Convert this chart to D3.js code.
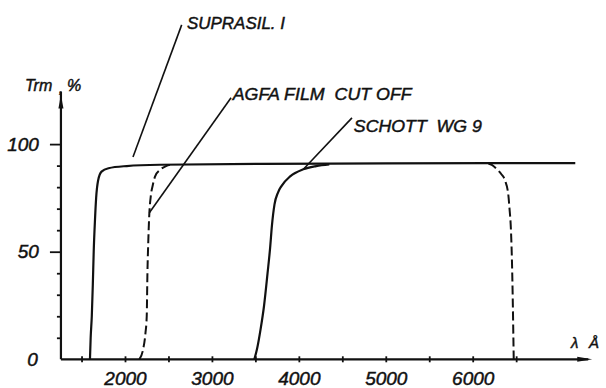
<!DOCTYPE html>
<html>
<head>
<meta charset="utf-8">
<script src="https://cdn.jsdelivr.net/npm/d3@7"></script>
<style>
  html, body { margin: 0; padding: 0; background: #fff; }
  svg { display: block; }
  text { font-family: "Liberation Sans", Arial, sans-serif; font-style: italic; fill: #111; stroke: #111; stroke-width: 0.45px; }
</style>
</head>
<body>
<svg id="chart" width="606" height="388"></svg>
<script>
// ---- data (wavelength in Å, transmission in %) ----
const suprasilX = [1597, 1605, 1618, 1630, 1640, 1655, 1668, 1690, 1730, 1810, 2020, 2400, 3550, 5000, 7180];
const suprasilY = [0, 10, 20, 35, 50, 65, 75, 83, 87.2, 88.8, 89.8, 90.4, 90.8, 91.0, 91.2];

const agfaLeftX = [2165, 2205, 2235, 2250, 2258, 2268, 2280, 2296, 2320, 2345, 2403, 2472, 2540];
const agfaLeftY = [0, 4, 12, 20, 40, 55, 67.8, 75.6, 81, 84.9, 88, 89.8, 90.5];

const agfaRightX = [6181, 6220, 6277, 6330, 6373, 6411, 6422, 6440, 6452, 6462, 6468, 6472];
const agfaRightY = [91.0, 90.3, 88.4, 86, 83, 76, 70.7, 60, 45, 25, 10, 0];

const schottX = [3488, 3520, 3560, 3600, 3640, 3670, 3690, 3720, 3760, 3800, 3900, 4050, 4200, 4350];
const schottY = [0, 5, 14, 25, 40, 52, 62, 72, 77.5, 80.5, 85, 88.3, 89.8, 90.6];

const xTickLabels = [2000, 3000, 4000, 5000, 6000];
const xMinorTicks = [1500, 2000, 2500, 3000, 3500, 4000, 4500, 5000, 5500, 6000, 6500];
const yTickLabels = [0, 50, 100];
const yMinorTicks = [10, 20, 30, 40, 60, 70, 80, 90];

// annotation labels and their leader lines (in data units)
const labelNames = ["SUPRASIL. I", "AGFA FILM  CUT OFF", "SCHOTT  WG 9"];
const leaderFromX = [2092, 2280, 4052];
const leaderFromY = [94, 68.1, 88.3];
const leaderToX = [2652, 3220, 4611];
const leaderToY = [155.4, 121.5, 112.2];
const labelX = [2713, 3239, 4633];
const labelY = [153.5, 120.5, 105.5];
const labelLen = [98, 179, 128];

// ---- scales ----
const svg = d3.select("#chart");
const x = d3.scaleLinear().domain([2000, 6000]).range([125, 472.7]);
const y = d3.scaleLinear().domain([0, 100]).range([359.3, 144.1]);
const xAxisStart = 1263, xAxisEnd = 7375, yAxisTop = 124.5;

const ink = "#111";

// ---- axes ----
const gx = svg.append("g").attr("transform", `translate(0,${y(0)})`)
  .call(d3.axisBottom(x).tickValues(xMinorTicks).tickSize(3).tickFormat(""));
gx.select(".domain").remove();
gx.selectAll(".tick line").attr("y1", -3).attr("stroke", ink).attr("stroke-width", 1.8);

const gxl = svg.append("g").attr("transform", `translate(0,${y(0) + 9})`)
  .call(d3.axisBottom(x).tickValues(xTickLabels).tickSize(0).tickFormat(d3.format("d")));
gxl.select(".domain").remove();
gxl.selectAll("text").attr("font-size", 19).attr("font-family", "Liberation Sans")
  .attr("font-style", "italic").attr("fill", ink).attr("dy", "0.72em");

const gyMinor = svg.append("g").attr("transform", `translate(${x(xAxisStart)},0)`)
  .call(d3.axisLeft(y).tickValues(yMinorTicks).tickSize(4).tickFormat(""));
gyMinor.select(".domain").remove();
gyMinor.selectAll(".tick line").attr("stroke", ink).attr("stroke-width", 1.8);

const gy = svg.append("g").attr("transform", `translate(${x(xAxisStart)},0)`)
  .call(d3.axisLeft(y).tickValues(yTickLabels).tickSize(11).tickPadding(11).tickFormat(d3.format("d")));
gy.select(".domain").remove();
gy.selectAll(".tick line").filter(d => d === 0).remove();
gy.selectAll(".tick line").attr("stroke", ink).attr("stroke-width", 1.8);
gy.selectAll("text").attr("font-size", 19).attr("font-family", "Liberation Sans")
  .attr("font-style", "italic").attr("fill", ink);
gy.selectAll(".tick").filter(d => d === 0).select("text").attr("x", -23);

// axis lines
svg.append("line").attr("x1", x(xAxisStart)).attr("x2", x(xAxisEnd) - 4)
  .attr("y1", y(0)).attr("y2", y(0)).attr("stroke", ink).attr("stroke-width", 2.2);
svg.append("line").attr("x1", x(xAxisStart)).attr("x2", x(xAxisStart))
  .attr("y1", y(0)).attr("y2", y(yAxisTop)).attr("stroke", ink).attr("stroke-width", 2.2);
// arrow heads
const ax0 = x(xAxisStart), ay0 = y(0);
svg.append("path").attr("d", `M${x(xAxisEnd)},${ay0} L${x(xAxisEnd) - 15},${ay0 - 2.5} L${x(xAxisEnd) - 15},${ay0 + 2.5} Z`).attr("fill", ink);
svg.append("path").attr("d", `M${ax0},${y(yAxisTop) + 3} L${ax0 - 2.5},${y(yAxisTop) + 17} L${ax0 + 2.5},${y(yAxisTop) + 17} Z`).attr("fill", ink);

// axis titles
svg.append("text").attr("x", 25).attr("y", 91).attr("font-size", 16).attr("fill", ink).text("Trm");
svg.append("text").attr("x", 59).attr("y", 93).attr("font-size", 12).attr("fill", ink).text(",");
svg.append("text").attr("x", 67).attr("y", 91).attr("font-size", 16).attr("fill", ink).text("%");
svg.append("text").attr("x", 571).attr("y", 348).attr("font-size", 15).attr("fill", ink).text("λ");
svg.append("text").attr("x", 589).attr("y", 348).attr("font-size", 15).attr("fill", ink).text("Å");

// ---- curves ----
const line = d3.line().x(d => x(d[0])).y(d => y(d[1])).curve(d3.curveMonotoneX);
const zip = (a, b) => a.map((v, i) => [v, b[i]]);

svg.append("path").datum(zip(suprasilX, suprasilY)).attr("d", line)
  .attr("fill", "none").attr("stroke", ink).attr("stroke-width", 2.2);
svg.append("path").datum(zip(schottX, schottY)).attr("d", line)
  .attr("fill", "none").attr("stroke", ink).attr("stroke-width", 2.2);
svg.append("path").datum(zip(agfaLeftX, agfaLeftY)).attr("d", line)
  .attr("fill", "none").attr("stroke", ink).attr("stroke-width", 2).attr("stroke-dasharray", "9,4");
svg.append("path").datum(zip(agfaRightX, agfaRightY)).attr("d", line)
  .attr("fill", "none").attr("stroke", ink).attr("stroke-width", 2).attr("stroke-dasharray", "9,4");

// ---- annotations ----
labelNames.forEach((name, i) => {
  svg.append("line")
    .attr("x1", x(leaderFromX[i])).attr("y1", y(leaderFromY[i]))
    .attr("x2", x(leaderToX[i])).attr("y2", y(leaderToY[i]))
    .attr("stroke", ink).attr("stroke-width", 1.6);
  svg.append("text").attr("x", x(labelX[i])).attr("y", y(labelY[i]))
    .attr("font-size", 17).attr("fill", ink)
    .attr("textLength", labelLen[i]).attr("lengthAdjust", "spacingAndGlyphs")
    .style("white-space", "pre").text(name);
});
</script>
</body>
</html>
